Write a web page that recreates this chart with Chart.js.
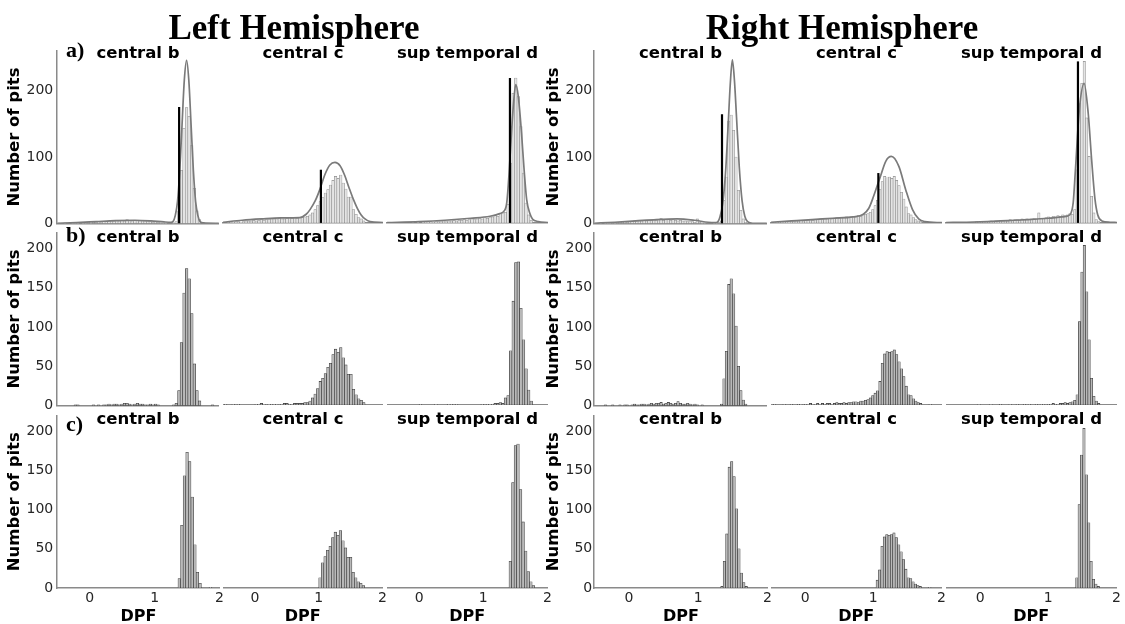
<!DOCTYPE html>
<html><head><meta charset="utf-8">
<script src="https://cdn.jsdelivr.net/npm/chart.js@4.4.1/dist/chart.umd.min.js"></script>
<style>
html,body{margin:0;padding:0;background:#fff;}
#stage{position:relative;width:1125px;height:624px;overflow:hidden;background:#fff;}
.txt{position:absolute;white-space:nowrap;color:#000;line-height:1;}
</style></head><body><div id="stage"></div>
<script>
// ---------------- DATA ----------------
const hemiTitles = ['Left Hemisphere', 'Right Hemisphere'];
const rowLabels = ['a)', 'b)', 'c)'];
const regionNames = ['central b', 'central c', 'sup temporal d'];
const X_TICKS = [0, 1, 2];
const Y_TICKS_A = [0, 100, 200];
const Y_TICKS_BC = [0, 50, 100, 150, 200];
const Y_MAX_A = 260, Y_MAX_BC = 220;
const BIN_W_LEFT = 0.04, BIN_W_RIGHT = 0.035;

// Left central b
const LB_a_start = -0.48;
const LB_a = [0,0,1,0,0,1,1,1,0,1, 1,2,1,2,2,3,2,3,3,4, 4,3,5,4,5,4,6,5,4,5, 5,4,4,3,4,3,2,3,2,1, 1,1,0,0,1,
  3,19,80,143,174,161,117,53,19,6];
const LB_b_start = -0.48;
const LB_b = [0,0,0,0,0,0,1,1,0,0, 0,0,0,1,0,1,0,1,1,2, 1,2,2,1,2,3,3,2,1,2, 3,2,2,1,1,2,1,2,1,0, 0,0,0,0,1,
  3,19,80,143,174,161,117,53,19,6,0,0,0,0,1];
const LB_c_start = 1.36;
const LB_c = [12,80,143,173,161,116,55,20,6,0,0,0,1];
const LB_curveX = [-0.5,-0.2,0.1,0.4,0.7,0.95,1.15,1.26,1.29,1.325,1.36,1.395,1.43,1.465,1.5,1.535,1.57,1.605,1.64,1.675,1.71,1.76,2.0];
const LB_curveY = [0.5,1.5,3,4.5,5,4,2.5,2,3,12,33,80,148,215,245,215,148,80,33,12,3,1,0.3];
const LB_thrX = 1.385, LB_thrH = 175;

// Left central c
const LC_a_start = -0.48;
const LC_a = [0,1,1,1,2,2,1,2,3,3, 3,4,3,4,5,4,5,5,6,5, 6,7,6,6,7,8,7,8,7,8, 9,9,10,12,15,20,26,
  32,38,45,50,57,64,70,67,72,60,51,39,39,20,13,8,6,3];
const LC_b_start = -0.48;
const LC_b = [1,0,0,1,0,1,0,0,0,0, 0,0,1,1,2,1,0,1,1,1, 1,0,1,2,2,1,1,2,2,2, 2,3,3,5,9,14,21,
  30,34,40,48,53,64,71,67,73,60,51,39,39,20,13,8,6,3];
const LC_c_start = 1.00;
const LC_c = [13,32,40,48,53,64,71,67,73,60,51,39,39,20,13,8,6,3];
const LC_curveX = [-0.5,-0.2,0.1,0.4,0.7,0.8,0.86,0.94,1.02,1.09,1.17,1.25,1.33,1.4,1.47,1.54,1.6,1.66,1.72,1.8,2.0];
const LC_curveY = [1,4,6,7.5,8,13,20,33,52,72,87,91,86,72,53,35,22,12,6,2,0.5];
const LC_thrX = 1.03, LC_thrH = 80;

// Left sup temporal d
const LD_a_start = -0.48;
const LD_a = [0,0,0,0,0,0,0,0,0,1, 0,1,0,1,1,1,2,1,2,2, 2,3,2,3,3,4,3,4,4,5, 4,5,6,5,6,7,6,8,7,8, 9,12,10,14,15,16,28,
  90,195,218,190,145,75,30,12,4];
const LD_b_start = -0.48;
const LD_b = [0,0,0,0,0,0,0,0,0,0, 0,0,1,0,0,0,0,0,1,0, 0,0,0,1,1,0,1,0,0,0, 0,0,0,0,0,0,1,0,1,1, 1,2,2,3,2,9,12,
  69,132,181,182,123,83,46,19,5];
const LD_c_start = 1.40;
const LD_c = [34,134,181,183,125,84,47,21,8,3];
const LD_curveX = [-0.5,0,0.4,0.8,1.1,1.25,1.32,1.36,1.4,1.44,1.47,1.5,1.54,1.59,1.63,1.67,1.72,1.76,1.85,2.0];
const LD_curveY = [0.5,2,4,7,10,14,18,30,80,145,185,208,190,135,80,35,14,6,2,0.5];
const LD_thrX = 1.41, LD_thrH = 218;

// Right central b
const RB_a_start = -0.495;
const RB_a = [0,0,1,0,1,1,1,2,1,2, 2,2,3,2,3,3,4,3,4,4, 5,4,5,5,6,5,6,8,5,6, 6,5,6,5,4,5,4,4,3,3, 3,2,7,2,1,1,0,0,0,1, 1,2,
  4,35,70,154,163,140,100,50,20,7,2];
const RB_b_start = -0.495;
const RB_b = [0,0,0,0,1,0,0,1,0,0, 1,0,1,1,0,1,2,1,1,2, 2,1,2,3,2,3,3,4,2,3, 4,3,2,3,5,3,2,2,3,2, 1,2,1,0,1,0,0,0,0,0, 0,0,
  2,34,69,154,161,142,101,50,19,7,2];
const RB_c_start = 1.325;
const RB_c = [2,34,69,154,161,142,101,50,19,7,2];
const RB_curveX = [-0.5,-0.2,0.1,0.4,0.7,0.95,1.15,1.25,1.28,1.32,1.36,1.4,1.44,1.47,1.5,1.53,1.56,1.6,1.64,1.68,1.72,1.8,2.0];
const RB_curveY = [0.5,2,4,6,7,5,2,1.5,2,10,30,75,150,210,246,215,160,85,35,11,3,0.5,0.2];
const RB_thrX = 1.35, RB_thrH = 164;

// Right central c
const RC_a_start = -0.5;
const RC_a = [0,1,1,1,2,1,2,2,3,2, 3,3,4,3,4,4,5,4,5,5, 6,5,6,6,7,6,7,8,7,8, 8,9,8,9,10,9,11,10,12,13, 14,16,20,26,
  34,50,62,70,68,69,67,70,64,56,46,36,24,14,12,8,5,3,2];
const RC_b_start = -0.5;
const RC_b = [0,1,0,0,0,1,0,0,1,0, 0,1,1,0,1,1,2,1,1,2, 1,2,1,2,2,1,2,3,2,2, 3,2,3,3,4,4,3,5,5,6, 7,9,12,15,
  18,30,53,65,68,67,68,70,64,55,46,36,24,13,12,8,5,3,2,0,0,0,1];
const RC_c_start = 1.04;
const RC_c = [10,23,53,65,68,67,68,70,64,55,46,36,24,13,12,8,5,3,2,0,0,0,1];
const RC_curveX = [-0.5,-0.2,0.1,0.4,0.7,0.85,0.93,1.0,1.1,1.18,1.26,1.37,1.47,1.57,1.66,1.75,2.0];
const RC_curveY = [1,3,5,7,9,13,22,40,70,93,100,85,50,20,6,2,0.3];
const RC_thrX = 1.07, RC_thrH = 75;

// Right sup temporal d
const RD_a_start = -0.49;
const RD_a = [0,0,0,0,1,0,0,1,0,1, 1,1,2,1,1,2,2,2,3,2, 3,3,4,3,4,3,5,4,5,5, 4,6,5,6,5,6,7,6,15,7, 7,8,9,8,10,9,11,10,12,11, 12,14,13,20,
  80,180,210,243,158,100,40,15,5,2];
const RD_b_start = -0.49;
const RD_b = [0,0,0,0,0,0,0,0,0,0, 0,0,0,1,0,0,0,0,1,0, 0,0,1,0,0,0,1,0,0,1, 0,0,1,0,1,0,0,1,0,1, 1,0,1,1,2,1,1,2,2,3, 2,3,4,6,
  13,106,169,203,144,83,34,11,5,2];
const RD_c_start = 1.40;
const RD_c = [13,106,169,203,144,83,34,11,5,2];
const RD_curveX = [-0.5,-0.2,0.1,0.4,0.7,1.0,1.2,1.31,1.36,1.39,1.45,1.52,1.58,1.63,1.68,1.72,1.78,1.9,2.0];
const RD_curveY = [0.5,1,2,3.5,5,7,9,12,30,75,170,210,165,95,35,12,3,1,0.5];
const RD_thrX = 1.43, RD_thrH = 243;

// ---------------- LAYOUT ----------------
const COLS = {LB:[57,219], LC:[223,383], LD:[387,548], RB:[594,767], RC:[771,942], RD:[946,1117]};
const ROWS = {a:[50,223], b:[232,405], c:[415,588]};

const stage = document.getElementById('stage');
function binPoints(start, w, counts){ return counts.map((c,i)=>({x: +(start + w*(i+0.5)).toFixed(5), y: c})); }
function zipXY(xs, ys){ return xs.map((x,i)=>({x: x, y: ys[i]})); }

const panels = [];
function pushSet(col, w, a, b, c, cx, cy, thrX, thrH){
  panels.push({col, row:'a', start:a[0], counts:a[1], w, curve:zipXY(cx,cy), thrX, thrH});
  panels.push({col, row:'b', start:b[0], counts:b[1], w});
  panels.push({col, row:'c', start:c[0], counts:c[1], w});
}
pushSet('LB', BIN_W_LEFT, [LB_a_start,LB_a], [LB_b_start,LB_b], [LB_c_start,LB_c], LB_curveX, LB_curveY, LB_thrX, LB_thrH);
pushSet('LC', BIN_W_LEFT, [LC_a_start,LC_a], [LC_b_start,LC_b], [LC_c_start,LC_c], LC_curveX, LC_curveY, LC_thrX, LC_thrH);
pushSet('LD', BIN_W_LEFT, [LD_a_start,LD_a], [LD_b_start,LD_b], [LD_c_start,LD_c], LD_curveX, LD_curveY, LD_thrX, LD_thrH);
pushSet('RB', BIN_W_RIGHT, [RB_a_start,RB_a], [RB_b_start,RB_b], [RB_c_start,RB_c], RB_curveX, RB_curveY, RB_thrX, RB_thrH);
pushSet('RC', BIN_W_RIGHT, [RC_a_start,RC_a], [RC_b_start,RC_b], [RC_c_start,RC_c], RC_curveX, RC_curveY, RC_thrX, RC_thrH);
pushSet('RD', BIN_W_RIGHT, [RD_a_start,RD_a], [RD_b_start,RD_b], [RD_c_start,RD_c], RD_curveX, RD_curveY, RD_thrX, RD_thrH);

const AXIS_COLOR = '#8a8a8a';
const TICK_COLOR = '#262626';

function addPanel(p){
  const [l, r] = COLS[p.col];
  const [t, b] = ROWS[p.row];
  const first = (p.col === 'LB' || p.col === 'RB');
  const bottom = (p.row === 'c');
  const isA = (p.row === 'a');
  const div = document.createElement('div');
  div.style.position = 'absolute';
  let W = r - l + 100, H = b - t + 60;
  div.style.left = '0px'; div.style.top = '0px';
  div.style.width = W + 'px'; div.style.height = H + 'px';
  stage.appendChild(div);
  const cv = document.createElement('canvas');
  div.appendChild(cv);

  const ds = [];
  if (p.thrX !== undefined) ds.push({type:'line', data:[{x:p.thrX,y:0},{x:p.thrX,y:p.thrH}], borderColor:'#000', borderWidth:2.2, pointRadius:0, order:0});
  if (p.curve) ds.push({type:'line', data:p.curve, borderColor:'#7a7a7a', borderWidth:1.7, pointRadius:0, tension:0.4, cubicInterpolationMode:'monotone', order:1});
  ds.push({type:'bar', data:binPoints(p.start, p.w, p.counts),
    backgroundColor: isA ? '#e4e4e4' : '#b9b9b9',
    borderColor: isA ? '#8e8e8e' : '#333333',
    borderWidth: 0.6, borderSkipped:false, barPercentage:1, categoryPercentage:1, order:2});

  const rightBlock = p.col[0] === 'R';
  const chart = new Chart(cv, {
    type:'bar',
    data:{datasets:ds},
    options:{
      responsive:true, maintainAspectRatio:false, animation:false, events:[],
      layout:{padding:0},
      plugins:{legend:{display:false}, tooltip:{enabled:false}, title:{display:false}},
      scales:{
        x:{type:'linear', min:-0.5, max:2, offset:false,
           grid:{display:false, drawTicks:false, offset:false},
           border:{display:true, color:AXIS_COLOR, width:1.5},
           afterBuildTicks: s => { s.ticks = X_TICKS.map(v=>({value:v})); },
           ticks:{display:bottom, color:TICK_COLOR, font:{family:'DejaVu Sans', size:14, lineHeight:1}, padding:3, maxRotation:0, autoSkip:false},
           title:{display:bottom, text:'DPF', color:'#000', font:{family:'DejaVu Sans', size:16, weight:'bold', lineHeight:1}, padding:{top:1,bottom:0}}
        },
        y:{min:0, max: isA ? Y_MAX_A : Y_MAX_BC, display:first,
           grid:{display:false, drawTicks:false},
           border:{display:true, color:AXIS_COLOR, width:1.5},
           afterBuildTicks: s => { s.ticks = (isA ? Y_TICKS_A : Y_TICKS_BC).map(v=>({value:v})); },
           ticks:{color:TICK_COLOR, font:{family:'DejaVu Sans', size:14}, padding: rightBlock ? 2 : 4},
           title:{display:true, text:'Number of pits', color:'#000', font:{family:'DejaVu Sans', size:16.5, weight:'bold', lineHeight:1}, padding:{top:0,bottom: rightBlock ? 2 : 0}}
        }
      }
    }
  });
  for (let k=0;k<2;k++){
    const ca = chart.chartArea;
    const cw = chart.width, ch = chart.height;
    const mL = ca.left, mT = ca.top, mR = cw - ca.right, mB = ch - ca.bottom;
    const nW = Math.round(r - l + mL + mR), nH = Math.round(b - t + mT + mB);
    div.style.left = Math.round(l - mL) + 'px';
    div.style.top = Math.round(t - mT) + 'px';
    div.style.width = nW + 'px'; div.style.height = nH + 'px';
    chart.resize(nW, nH);
  }
}
panels.forEach(addPanel);

// ---------------- TEXT ----------------
function addText(txt, x, baseline, family, size, weight, baseRatio, center){
  const d = document.createElement('div');
  d.className = 'txt';
  d.textContent = txt;
  d.style.fontFamily = family;
  d.style.fontSize = size + 'px';
  d.style.fontWeight = weight;
  d.style.top = (baseline - baseRatio*size) + 'px';
  d.style.left = x + 'px';
  if (center) d.style.transform = 'translateX(-50%)';
  stage.appendChild(d);
}
const SERIF = '"Liberation Serif","Times New Roman",serif';
const SANS = '"DejaVu Sans",sans-serif';
const SERIF_BASE = 0.8375, SANS_BASE = 0.846;
addText(hemiTitles[0], 294, 39, SERIF, 35, 'bold', SERIF_BASE, true);
addText(hemiTitles[1], 842, 39, SERIF, 35, 'bold', SERIF_BASE, true);
const rowBase = {a:59, b:243, c:425};
const rowLabBase = [57, 242, 431];
['a','b','c'].forEach((rw, i) => {
  addText(rowLabels[i], 66, rowLabBase[i], SERIF, 22, 'bold', SERIF_BASE, false);
  ['LB','LC','LD','RB','RC','RD'].forEach((c, j) => {
    const [l, r] = COLS[c];
    addText(regionNames[j % 3], (l + r) / 2, rowBase[rw], SANS, 16.5, 'bold', SANS_BASE, true);
  });
});
</script>
</body></html>
